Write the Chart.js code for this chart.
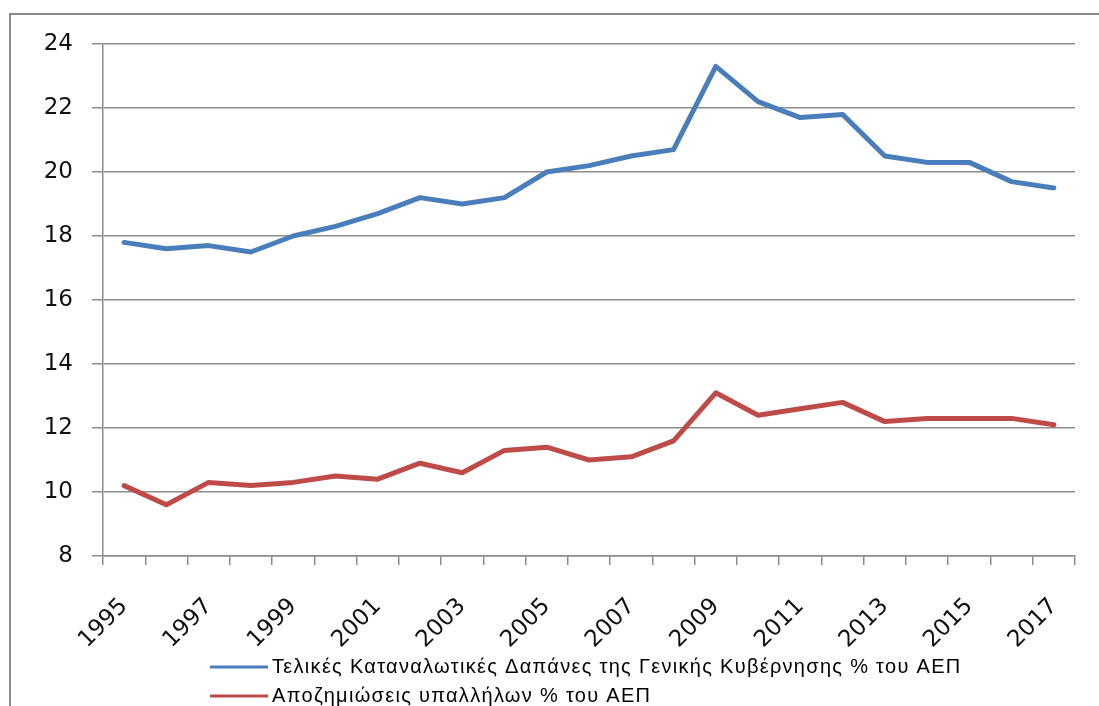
<!DOCTYPE html>
<html>
<head>
<meta charset="utf-8">
<script src="https://cdn.jsdelivr.net/npm/chart.js@4"></script>
<style>
  body { margin: 0; background: #fff; }
  canvas { display: block; }
</style>
</head>
<body>
<canvas id="myChart" width="1099" height="706"></canvas>
<script>
// έτη και τιμές (% του ΑΕΠ)
const years = ["1995", "1996", "1997", "1998", "1999", "2000", "2001", "2002", "2003", "2004", "2005", "2006",
  "2007", "2008", "2009", "2010", "2011", "2012", "2013", "2014", "2015", "2016", "2017"];
const consumption = [17.8, 17.6, 17.7, 17.5, 18.0, 18.3, 18.7, 19.2, 19.0, 19.2, 20.0, 20.2,
  20.5, 20.7, 23.3, 22.2, 21.7, 21.8, 20.5, 20.3, 20.3, 19.7, 19.5];
const compensation = [10.2, 9.6, 10.3, 10.2, 10.3, 10.5, 10.4, 10.9, 10.6, 11.3, 11.4, 11.0,
  11.1, 11.6, 13.1, 12.4, 12.6, 12.8, 12.2, 12.3, 12.3, 12.3, 12.1];
const yTicks = [8, 10, 12, 14, 16, 18, 20, 22, 24];

const seriesNames = [
  "Τελικές Καταναλωτικές Δαπάνες της Γενικής Κυβέρνησης % του ΑΕΠ",
  "Αποζημιώσεις υπαλλήλων % του ΑΕΠ"
];

const gridColor = "#8c8c8c";
const tickFont = { family: "DejaVu Sans", size: 23 };

// πλαίσιο γύρω από το γράφημα
const framePlugin = {
  id: "frame",
  beforeDraw(chart) {
    const ctx = chart.ctx;
    ctx.save();
    ctx.strokeStyle = "#8a8a8a";
    ctx.lineWidth = 2;
    ctx.beginPath();
    ctx.moveTo(10, 706);
    ctx.lineTo(10, 14);
    ctx.lineTo(1099, 14);
    ctx.stroke();
    ctx.restore();
  }
};

// υπόμνημα στοιχισμένο αριστερά, ένα στοιχείο ανά γραμμή
const legendPlugin = {
  id: "leftLegend",
  afterDraw(chart) {
    const ctx = chart.ctx;
    ctx.save();
    ctx.font = "20px 'Liberation Sans Narrow', 'Liberation Sans', sans-serif";
    ctx.letterSpacing = "1.3px";
    ctx.textBaseline = "middle";
    ctx.fillStyle = "#000";
    chart.data.datasets.forEach(function (ds, i) {
      const y = 667 + i * 29;
      ctx.strokeStyle = ds.borderColor;
      ctx.lineWidth = 3;
      ctx.beginPath();
      ctx.moveTo(210, y);
      ctx.lineTo(268, y);
      ctx.stroke();
      ctx.fillText(ds.label, 272, y);
    });
    ctx.restore();
  }
};

const ctx = document.getElementById("myChart");

new Chart(ctx, {
  type: "line",
  data: {
    labels: years,
    datasets: [
      {
        label: seriesNames[0],
        data: consumption,
        borderColor: "#4a7ebb",
        borderWidth: 5,
        pointRadius: 0,
        tension: 0,
        borderJoinStyle: "round",
        borderCapStyle: "round"
      },
      {
        label: seriesNames[1],
        data: compensation,
        borderColor: "#be4b48",
        borderWidth: 5,
        pointRadius: 0,
        tension: 0,
        borderJoinStyle: "round",
        borderCapStyle: "round"
      }
    ]
  },
  options: {
    responsive: false,
    animation: false,
    layout: { padding: { top: 44, right: 24, left: 0, bottom: 0 } },
    plugins: {
      legend: { display: false },
      tooltip: { enabled: false }
    },
    scales: {
      x: {
        offset: true,
        grid: { offset: true, drawOnChartArea: false, tickLength: 9, color: gridColor, lineWidth: 1.5 },
        border: { color: gridColor, width: 1.5 },
        ticks: {
          autoSkip: false,
          minRotation: 45,
          maxRotation: 45,
          padding: 28,
          color: "#111",
          font: tickFont,
          callback: function (value, index) {
            return index % 2 === 0 ? years[index] : "";
          }
        },
        afterFit: function (scale) {
          scale.height = 150;
          scale.paddingLeft = 0;
          scale.paddingRight = 0;
        }
      },
      y: {
        min: yTicks[0],
        max: yTicks[yTicks.length - 1],
        afterBuildTicks: function (scale) {
          scale.ticks = yTicks.map(function (v) { return { value: v }; });
        },
        grid: { color: gridColor, lineWidth: 1.5, tickLength: 11 },
        border: { color: gridColor, width: 1.5 },
        ticks: { padding: 19, color: "#111", font: tickFont },
        afterFit: function (scale) { scale.width = 103; }
      }
    }
  },
  plugins: [framePlugin, legendPlugin]
});
</script>
</body>
</html>
